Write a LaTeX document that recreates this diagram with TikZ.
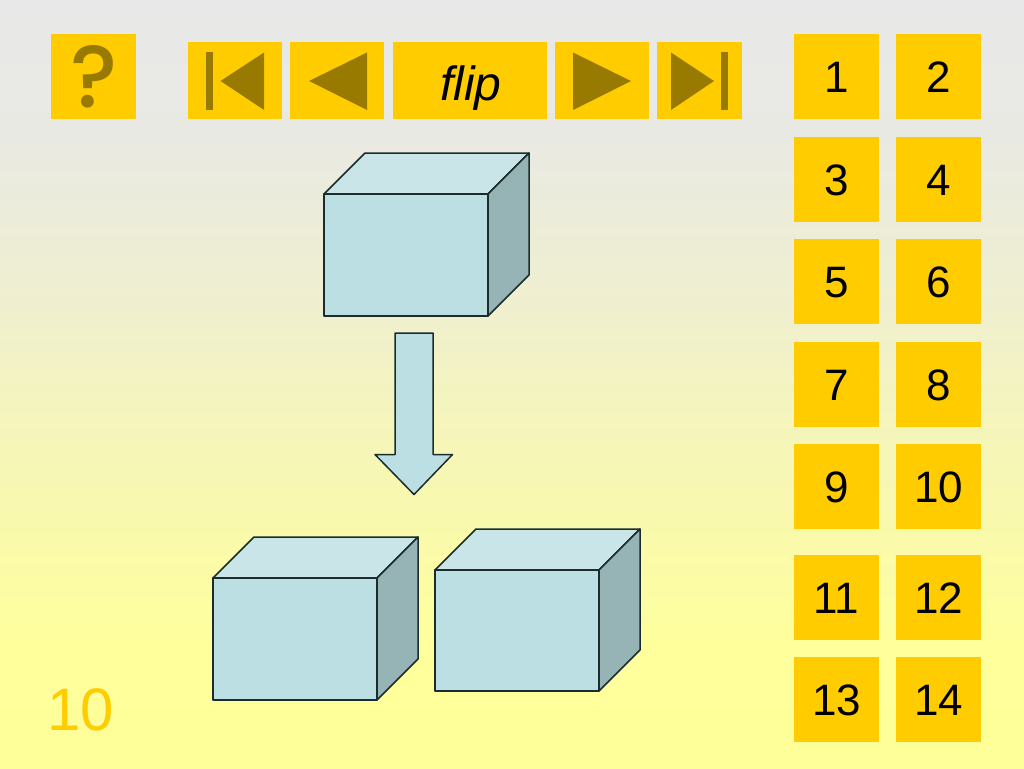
\documentclass[tikz,border=0pt]{standalone}
\usepackage{fontspec}
\setmainfont{Liberation Sans}
\newfontfamily\helpfont{Poppins Medium}
\definecolor{btnyellow}{HTML}{FFCC00}
\definecolor{btnglyph}{HTML}{997A00}
\definecolor{boxfront}{HTML}{BBDFE3}
\definecolor{boxtop}{HTML}{C9E5E8}
\definecolor{boxside}{HTML}{96B3B6}
\definecolor{boxline}{HTML}{1C2C2C}
\definecolor{bga}{HTML}{FFFF99}
\definecolor{bgb}{HTML}{FFFF9C}
\definecolor{bgc}{HTML}{F8F8B0}
\definecolor{bgd}{HTML}{F4F4C0}
\definecolor{bge}{HTML}{EFEFD0}
\definecolor{bgf}{HTML}{E9E9E4}
\definecolor{bgg}{HTML}{E8E8E8}
\pgfdeclareverticalshading{slidebg}{100bp}{color(0bp)=(bga);color(25bp)=(bga);color(32.7bp)=(bgb);color(42.4bp)=(bgc);color(49bp)=(bgd);color(55.5bp)=(bge);color(66.7bp)=(bgf);color(75bp)=(bgg);color(100bp)=(bgg)}
\tikzset{
  btn/.style={fill=btnyellow,inner sep=0pt,minimum width=85pt,minimum height=85pt,text height=32pt,text depth=0pt,font=\fontsize{44}{44}\selectfont},
  navbtn/.style={fill=btnyellow,inner sep=0pt,minimum height=77pt},
  glyph/.style={fill=btnglyph},
  boxedge/.style={draw=boxline,line width=1.5pt,line join=round}
}
\begin{document}
\begin{tikzpicture}[x=1pt,y=-1pt]
                \useasboundingbox (0,0) rectangle (1024,768);
                \shade[shading=slidebg] (0,0) rectangle (1024,768);
                % help button
                \node[btn] (help) at (93.5,76.5){};
                \node[text=btnglyph,inner sep=0pt,font=\fontsize{88}{88}\helpfont] (helpmark) at (94,77){?};
                % navigation row
                \node[navbtn,minimum width=94pt] (first) at (235,80.5){};
                \node[navbtn,minimum width=94pt] (prev) at (337,80.5){};
                \node[navbtn,minimum width=154pt,text height=39pt,text depth=0pt,font=\fontsize{48}{48}\itshape\selectfont] (flip) at (469.5,80.5){\hspace{3pt}flip};
                \node[navbtn,minimum width=94pt] (next) at (602,80.5){};
                \node[navbtn,minimum width=85pt] (last) at (699.5,80.5){};
                \fill[glyph] (206,52) rectangle (213,110);
                \fill[glyph] (264,52.5)--(264,110)--(220.5,81)--cycle;
                \fill[glyph] (367,52.5)--(367,110)--(309,81)--cycle;
                \fill[glyph] (573,52.5)--(573,110)--(631,81)--cycle;
                \fill[glyph] (671,52.5)--(671,110)--(714,81)--cycle;
                \fill[glyph] (721,52)rectangle (728,110);
                % numbered buttons
                \foreach \num/\px/\py in {1/836.5/76.5,2/938.5/76.5,3/836.5/179.5,4/938.5/179.5,5/836.5/281.5,6/938.5/281.5,7/836.5/384.5,8/938.5/384.5,9/836.5/486.5,10/938.5/486.5,11/836.5/597.5,12/938.5/597.5,13/836.5/699.5,14/938.5/699.5}
                    \node[btn] (btn\num) at (\px,\py){\num};
                % boxes
                \foreach \bx/\by/\bh in {324/194/122,213/578/122,435/570/121}{
                    \draw[boxedge,fill=boxtop] (\bx,\by)--++(41,-41)--++(164,0)--++(-41,41)--cycle;
                    \draw[boxedge,fill=boxside] (\bx+164,\by)--++(41,-41)--++(0,\bh)--++(-41,41)--cycle;
                    \draw[boxedge,fill=boxfront] (\bx,\by) rectangle ++(164,\bh);
                }
                % down arrow
                \draw[boxedge,fill=boxfront] (395,333)--(433,333)--(433,454.5)--(452.5,454.5)--(414,494.5)--(375,454.5)--(395,454.5)--cycle;
                \node[text=btnyellow,inner sep=0pt,font=\fontsize{60}{60}\selectfont] (slidenum) at (80.5,710){10};
            \end{tikzpicture}
\end{document}
